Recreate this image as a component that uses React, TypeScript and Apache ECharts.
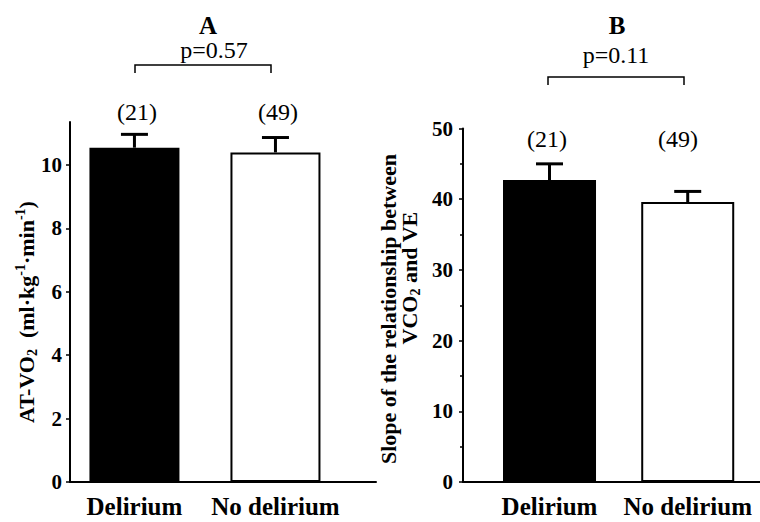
import React, { useEffect, useRef } from "react";
import * as echarts from "echarts";

const categories = ["Delirium", "No delirium"];
const atVo2Means = [10.55, 10.4];
const atVo2Errors = [0.42, 0.47];
const slopeMeans = [42.7, 39.6];
const slopeErrors = [2.3, 1.5];
const groupSizes = ["(21)", "(49)"];
const pValueA = "p=0.57";
const pValueB = "p=0.11";
const ticksA = [0, 2, 4, 6, 8, 10];

const SERIF = "'Liberation Serif', 'Times New Roman', serif";

export default function App() {
  const ref = useRef<HTMLDivElement>(null);
  useEffect(() => {
    if (!ref.current) return;
    const chart = echarts.init(ref.current, null, { renderer: "svg" });
    const xPos = [1, 2];
    const barData = (vals: number[]) =>
      vals.map((v, i) => ({
        value: [xPos[i], v],
        itemStyle:
          i === 0
            ? { color: "#000", borderColor: "#000", borderWidth: 0 }
            : { color: "#fff", borderColor: "#000", borderWidth: 2 },
      }));
    const errData = (vals: number[], errs: number[]) =>
      vals.map((v, i) => [xPos[i], v, errs[i]]);
    const renderErr = (params: any, api: any) => {
      const x = api.value(0);
      const v = api.value(1);
      const e = api.value(2);
      const p0 = api.coord([x, v]);
      const p1 = api.coord([x, v + e]);
      const half = 13.5;
      const style = { stroke: "#000", lineWidth: 3 };
      return {
        type: "group",
        children: [
          { type: "line", shape: { x1: p0[0], y1: p0[1], x2: p1[0], y2: p1[1] }, style },
          { type: "line", shape: { x1: p1[0] - half, y1: p1[1], x2: p1[0] + half, y2: p1[1] }, style },
        ],
      };
    };
    const xAxisCommon = (gridIndex: number, min: number, max: number) => ({
      type: "value",
      gridIndex,
      min,
      max,
      splitLine: { show: false },
      axisLine: { lineStyle: { color: "#000", width: 2 } },
      axisTick: { show: false },
      axisLabel: {
        customValues: xPos,
        formatter: (v: number) => categories[Math.round(v) - 1] ?? "",
        color: "#000",
        fontFamily: SERIF,
        fontWeight: "bold",
        fontSize: 25,
        margin: 12,
      },
    });
    const tickLabel = {
      color: "#000",
      fontFamily: SERIF,
      fontWeight: "bold",
      fontSize: 21,
    };
    chart.setOption({
      animation: false,
      backgroundColor: "#fff",
      grid: [
        { left: 70, top: 122, width: 306, height: 360 },
        { left: 463, top: 128.5, width: 297, height: 353.5 },
      ],
      xAxis: [xAxisCommon(0, 0.543, 2.713), xAxisCommon(1, 0.374, 2.523)],
      yAxis: [
        {
          type: "value",
          gridIndex: 0,
          min: 0,
          max: 11.36,
          interval: 2,
          splitLine: { show: false },
          axisLine: { show: true, lineStyle: { color: "#000", width: 2 } },
          axisTick: { show: true, customValues: ticksA, length: 4, lineStyle: { color: "#000", width: 1.5 } },
          axisLabel: { ...tickLabel, customValues: ticksA, margin: 8 },
        },
        {
          type: "value",
          gridIndex: 1,
          min: 0,
          max: 50,
          interval: 10,
          splitLine: { show: false },
          axisLine: { show: true, lineStyle: { color: "#000", width: 2 } },
          axisTick: { show: true, length: 4, lineStyle: { color: "#000", width: 1.5 } },
          minorTick: { show: true, splitNumber: 2, length: 3, lineStyle: { color: "#000", width: 1.5 } },
          minorSplitLine: { show: false },
          axisLabel: { ...tickLabel, margin: 10 },
        },
      ],
      series: [
        { type: "bar", xAxisIndex: 0, yAxisIndex: 0, barWidth: 90, data: barData(atVo2Means) },
        { type: "custom", xAxisIndex: 0, yAxisIndex: 0, renderItem: renderErr, data: errData(atVo2Means, atVo2Errors), z: 3 },
        { type: "bar", xAxisIndex: 1, yAxisIndex: 1, barWidth: 93, data: barData(slopeMeans) },
        { type: "custom", xAxisIndex: 1, yAxisIndex: 1, renderItem: renderErr, data: errData(slopeMeans, slopeErrors), z: 3 },
      ],
      graphic: [
        { type: "text", x: 208, y: 25, style: { text: "A", fontFamily: SERIF, fontWeight: "bold", fontSize: 25, fill: "#000", align: "center", verticalAlign: "middle" } },
        { type: "text", x: 214, y: 50, style: { text: pValueA, fontFamily: SERIF, fontSize: 24, fill: "#000", align: "center", verticalAlign: "middle" } },
        { type: "polyline", shape: { points: [[135, 73], [135, 65], [271, 65], [271, 73]] }, style: { stroke: "#000", lineWidth: 1.5, fill: null } },
        { type: "text", x: 137, y: 112, style: { text: groupSizes[0], fontFamily: SERIF, fontSize: 24, fill: "#000", align: "center", verticalAlign: "middle" } },
        { type: "text", x: 278, y: 112, style: { text: groupSizes[1], fontFamily: SERIF, fontSize: 24, fill: "#000", align: "center", verticalAlign: "middle" } },
        { type: "text", x: 617, y: 25, style: { text: "B", fontFamily: SERIF, fontWeight: "bold", fontSize: 25, fill: "#000", align: "center", verticalAlign: "middle" } },
        { type: "text", x: 616, y: 55, style: { text: pValueB, fontFamily: SERIF, fontSize: 24, fill: "#000", align: "center", verticalAlign: "middle" } },
        { type: "polyline", shape: { points: [[548, 85], [548, 77], [684, 77], [684, 85]] }, style: { stroke: "#000", lineWidth: 1.5, fill: null } },
        { type: "text", x: 547, y: 139, style: { text: groupSizes[0], fontFamily: SERIF, fontSize: 24, fill: "#000", align: "center", verticalAlign: "middle" } },
        { type: "text", x: 678, y: 139, style: { text: groupSizes[1], fontFamily: SERIF, fontSize: 24, fill: "#000", align: "center", verticalAlign: "middle" } },
        {
          type: "text",
          x: 26,
          y: 312,
          rotation: Math.PI / 2,
          style: {
            text: "{b|AT-VO}{s|2}{b|  (ml·kg}{p|-1}{b|·min}{p|-1}{b|)}",
            align: "center",
            verticalAlign: "middle",
            fill: "#000",
            rich: {
              b: { fontFamily: SERIF, fontWeight: "bold", fontSize: 22, fill: "#000" },
              s: { fontFamily: SERIF, fontWeight: "bold", fontSize: 14, fill: "#000", padding: [12, 0, 0, 0] },
              p: { fontFamily: SERIF, fontWeight: "bold", fontSize: 14, fill: "#000", padding: [0, 0, 12, 0] },
            },
          },
        },
        {
          type: "text",
          x: 388,
          y: 309,
          rotation: Math.PI / 2,
          style: {
            text: "Slope of the relationship between",
            align: "center",
            verticalAlign: "middle",
            fill: "#000",
            fontFamily: SERIF,
            fontWeight: "bold",
            fontSize: 22,
          },
        },
        {
          type: "text",
          x: 409,
          y: 278,
          rotation: Math.PI / 2,
          style: {
            text: "{b|VCO}{s|2}{b| and VE}",
            align: "center",
            verticalAlign: "middle",
            fill: "#000",
            rich: {
              b: { fontFamily: SERIF, fontWeight: "bold", fontSize: 22, fill: "#000" },
              s: { fontFamily: SERIF, fontWeight: "bold", fontSize: 14, fill: "#000", padding: [12, 0, 0, 0] },
            },
          },
        },
      ],
    });
    return () => chart.dispose();
  }, []);
  return (
    <div
      ref={ref}
      style={{ position: "fixed", left: 0, top: 0, width: 760, height: 522, background: "#fff" }}
    />
  );
}
